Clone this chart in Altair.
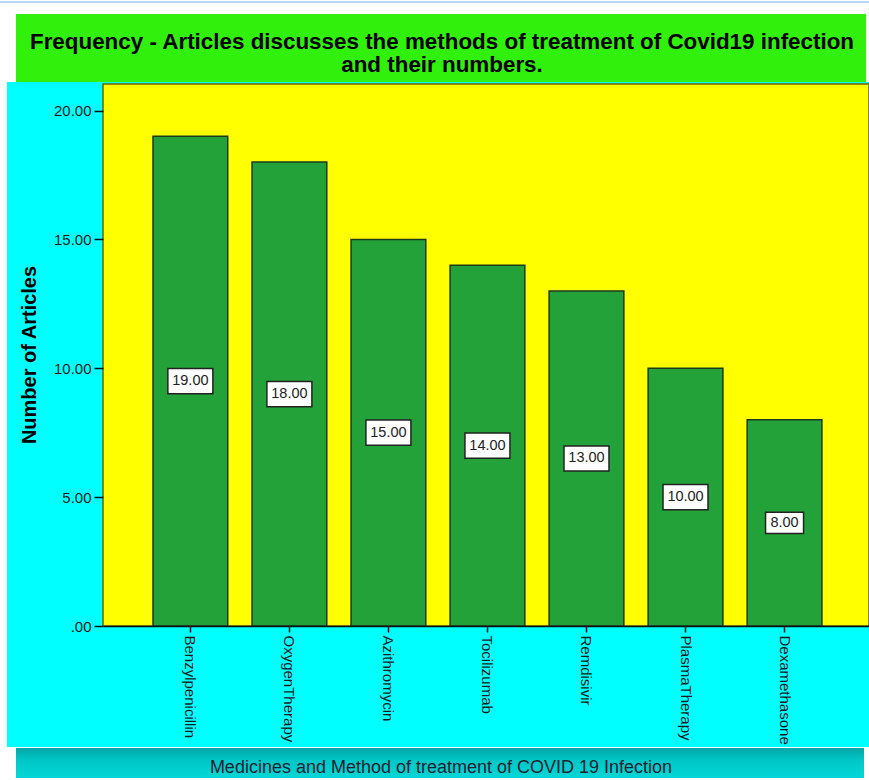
import altair as alt
import pandas as pd

# ---- data ----
categories = ["Benzylpenicillin", "OxygenTherapy", "Azithromycin", "Tocilizumab",
              "Remdisivir", "PlasmaTherapy", "Dexamethasone"]
values = [19, 18, 15, 14, 13, 10, 8]
y_ticks = [0, 5, 10, 15, 20]
title_lines = ["Frequency - Articles discusses the methods of treatment of Covid19 infection",
               "and their numbers."]
x_title = "Medicines and Method of treatment of COVID 19 Infection"
y_title = "Number of Articles"

df = pd.DataFrame({"method": categories, "count": values})
df["label"] = [f"{v:.2f}" for v in values]
df["boxsize"] = [(7 * len(s) + 10) ** 2 for s in df["label"]]

FONT = "Liberation Sans"
W, H = 766, 542
PAD = {"left": 103, "top": 84, "right": 0, "bottom": 154}
one = pd.DataFrame({"k": [0]})


def rect(x, x2, y, y2, **mk):
    return alt.Chart(one).mark_rect(**mk).encode(
        x=alt.value(x), x2=alt.value(x2), y=alt.value(y), y2=alt.value(y2))


cyan = rect(-96, W, -2, 663, color="#00ffff")
green = rect(-87, 763, -70, -2, color="#30f00c")
band = rect(-87, 761, 664, 694, color=alt.Gradient(
    gradient="linear",
    stops=[alt.GradientStop(color="#00a6a6", offset=0),
           alt.GradientStop(color="#00c6c6", offset=0.4),
           alt.GradientStop(color="#00d6d6", offset=1)],
    x1=0, x2=0, y1=0, y2=1))
topline = alt.Chart(one).mark_rule(color="#a9c9ef", strokeWidth=1.5).encode(
    x=alt.value(-103), x2=alt.value(W), y=alt.value(-82))
plotbg = rect(0, W, 0, H, fill="#ffff00", stroke="#6b6400", strokeWidth=1.5)

x_enc = alt.X("method:N", sort=categories, title=None,
              scale=alt.Scale(paddingInner=0.245, paddingOuter=0.49, align=0.515),
              axis=alt.Axis(title=None, labelAngle=90, labelFontSize=15, labelFont=FONT,
                            labelColor="#1a1a1a", labelPadding=3, tickSize=6,
                            tickColor="#111111", tickWidth=1.5, domainColor="#111111",
                            domainWidth=1.5, zindex=1, labelAlign="left",
                            labelBaseline="middle"))
y_enc = alt.Y("count:Q", title=None,
              scale=alt.Scale(domain=[0, 21.03], nice=False, zero=True),
              axis=alt.Axis(title=None, values=y_ticks,
                            labelExpr="datum.value == 0 ? '.00' : format(datum.value, '.2f')",
                            labelFontSize=15, labelFont=FONT, labelColor="#1a1a1a",
                            tickSize=9, tickColor="#111111", tickWidth=1.5,
                            domain=False, grid=False, zindex=1, labelPadding=3))

bars = alt.Chart(df).mark_bar(fill="#24a23a", stroke="#1d3a1d", strokeWidth=1.5).encode(
    x=x_enc, y=y_enc)

x_plain = alt.X("method:N", sort=categories, title=None)

boxes = alt.Chart(df).transform_calculate(half="datum.count / 2").mark_point(
    shape="M-1,-0.56H1V0.56H-1Z", filled=True, fill="white", stroke="#222222",
    strokeWidth=1.5, opacity=1, fillOpacity=1
).encode(x=x_plain, y=alt.Y("half:Q", title=None),
         size=alt.Size("boxsize:Q", scale=None, legend=None))

labels = alt.Chart(df).transform_calculate(half="datum.count / 2").mark_text(
    fontSize=14.5, font=FONT, color="#222222", baseline="middle", align="center"
).encode(x=x_plain, y=alt.Y("half:Q", title=None), text="label:N")

title = alt.Chart(one).mark_text(
    text=title_lines, fontSize=22.4, fontWeight="bold", font=FONT, color="#000000",
    lineHeight=23, align="center", baseline="alphabetic"
).encode(x=alt.value(339), y=alt.value(-35))

xt = alt.Chart(one).mark_text(
    text=x_title, fontSize=18, font=FONT, color="#1e1e30", align="center", baseline="middle"
).encode(x=alt.value(338), y=alt.value(684))

yt = alt.Chart(one).mark_text(
    text=y_title, fontSize=20, fontWeight="bold", font=FONT, color="#000000",
    angle=270, align="center", baseline="middle"
).encode(x=alt.value(-73), y=alt.value(271))

chart = alt.layer(cyan, green, band, topline, plotbg, bars, boxes, labels, title, xt, yt).properties(
    width=W, height=H,
    autosize=alt.AutoSizeParams(type="none"),
    padding=PAD,
    background="white",
).configure_view(strokeWidth=0)

chart.save("out.html", embed_options={"renderer": "svg", "actions": False})
